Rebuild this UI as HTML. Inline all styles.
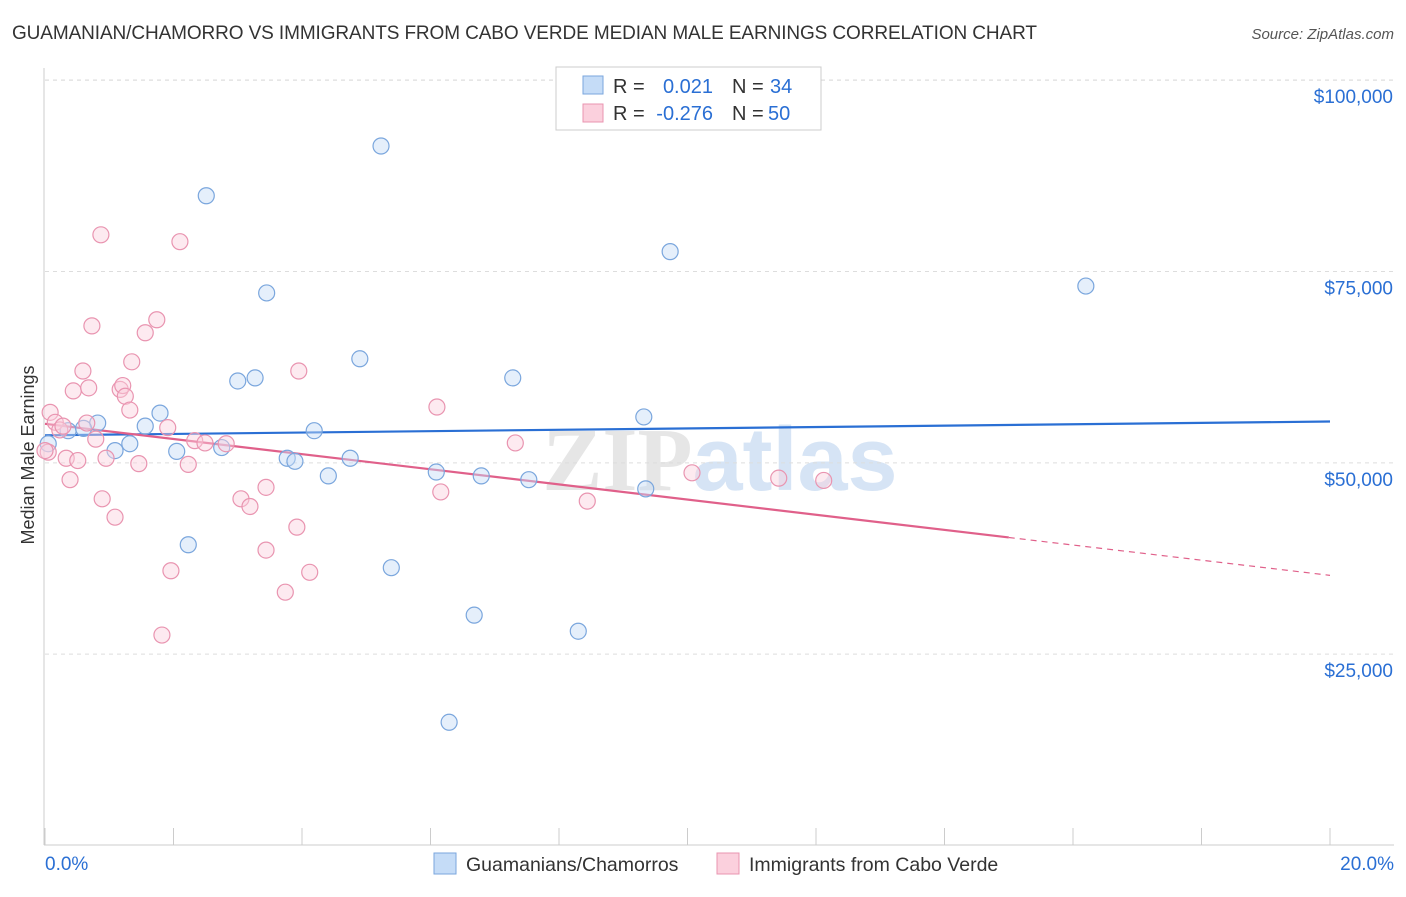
<!DOCTYPE html>
<html><head><meta charset="utf-8"><style>
body{margin:0;background:#fff;font-family:"Liberation Sans",sans-serif}
</style></head><body>
<svg id="chart" width="1406" height="892" xmlns="http://www.w3.org/2000/svg" font-family="Liberation Sans, sans-serif">
<text x="12" y="39" font-size="19" fill="#333" textLength="1025">GUAMANIAN/CHAMORRO VS IMMIGRANTS FROM CABO VERDE MEDIAN MALE EARNINGS CORRELATION CHART</text>
<text x="1394" y="39" font-size="15" fill="#555" text-anchor="end" font-style="italic">Source: ZipAtlas.com</text>
<text x="720" y="490" font-size="90" fill="#e8eef7" text-anchor="middle" font-weight="bold"><tspan fill="#e6e6e6" font-family="Liberation Serif, serif">ZIP</tspan><tspan fill="#d6e4f5">atlas</tspan></text>
<text transform="translate(34,455) rotate(-90)" font-size="18" fill="#333" text-anchor="middle">Median Male Earnings</text>
<g id="grid"></g><g id="axes"></g><g id="trend"></g><g id="pts"></g>
<g>
<rect x="556" y="67" width="265" height="63" fill="#fff" stroke="#ccc"/>
<rect x="583" y="76" width="20" height="18" fill="#c5dcf7" stroke="#7aa6dd"/>
<rect x="583" y="104" width="20" height="18" fill="#fbd0dd" stroke="#e994b0"/>
<text x="613" y="93" font-size="20" fill="#333">R =</text>
<text x="713" y="93" font-size="20" fill="#2a6fd4" text-anchor="end">0.021</text>
<text x="732" y="93" font-size="20" fill="#333">N =</text>
<text x="770" y="93" font-size="20" fill="#2a6fd4">34</text>
<text x="613" y="120" font-size="20" fill="#333">R =</text>
<text x="713" y="120" font-size="20" fill="#2a6fd4" text-anchor="end">-0.276</text>
<text x="732" y="120" font-size="20" fill="#333">N =</text>
<text x="768" y="120" font-size="20" fill="#2a6fd4">50</text>
</g>
<g>
<rect x="434" y="853" width="22" height="21" fill="#c5dcf7" stroke="#7aa6dd"/>
<text x="466" y="871" font-size="19.5" fill="#333">Guamanians/Chamorros</text>
<rect x="717" y="853" width="22" height="21" fill="#fbd0dd" stroke="#e994b0"/>
<text x="749" y="871" font-size="19.5" fill="#333">Immigrants from Cabo Verde</text>
</g>
<text x="45" y="870" font-size="19" fill="#2a6fd4">0.0%</text>
<text x="1394" y="870" font-size="19" fill="#2a6fd4" text-anchor="end">20.0%</text>
</svg>
<script>
const yTicks=[25,50,75,100];
const yTickLabels=["$25,000","$50,000","$75,000","$100,000"];
const xTicks=[0,2,4,6,8,10,12,14,16,18,20];
const blueX=[0.36,0.82,1.09,1.32,1.56,1.79,2.05,2.23,2.51,2.75,3.00,3.27,3.45,3.77,3.89,4.19,4.41,4.75,4.90,5.23,5.39,6.09,6.29,6.68,6.79,7.28,7.53,8.30,9.32,9.35,9.73,16.20,0.05,0.60];
const blueY=[54.2,55.2,51.6,52.5,54.8,56.5,51.5,39.3,84.9,52.0,60.7,61.1,72.2,50.6,50.2,54.2,48.3,50.6,63.6,91.4,36.3,48.8,16.1,30.1,48.3,61.1,47.8,28.0,56.0,46.6,77.6,73.1,52.5,54.5];
const pinkX=[0.08,0.16,0.23,0.05,0.33,0.39,0.44,0.51,0.59,0.65,0.68,0.73,0.79,0.87,0.89,0.95,1.09,1.17,1.21,1.25,1.32,1.35,1.46,1.56,1.74,1.82,1.91,1.96,2.10,2.23,2.33,2.49,2.82,3.05,3.19,3.44,3.44,3.74,3.92,3.95,4.12,6.10,6.16,7.32,8.44,10.07,11.42,12.12,0.0,0.28];
const pinkY=[56.6,55.3,54.3,51.4,50.6,47.8,59.4,50.3,62.0,55.2,59.8,67.9,53.1,79.8,45.3,50.6,42.9,59.6,60.1,58.7,56.9,63.2,49.9,67.0,68.7,27.5,54.6,35.9,78.9,49.8,52.9,52.6,52.5,45.3,44.3,46.8,38.6,33.1,41.6,62.0,35.7,57.3,46.2,52.6,45.0,48.7,48.0,47.7,51.6,54.8];
const blueTrend=[53.6,55.4];
const pinkTrend=[55.1,35.3];
const pinkSolidEnd=15.0;
const NS="http://www.w3.org/2000/svg";
const X=v=>45+v/20*1285, Y=v=>845.5-v*7.653;
function mk(p,t,a){const e=document.createElementNS(NS,t);for(const k in a)e.setAttribute(k,a[k]);document.getElementById(p).appendChild(e);return e;}
yTicks.forEach((t,i)=>{
 const l=mk('grid','line',{x1:45,x2:1394,y1:Y(t),y2:Y(t),stroke:'#ddd','stroke-dasharray':'4,4'});
 
 
 const tx=mk('grid','text',{x:1393,y:Y(t)+23,'font-size':19,fill:'#2a6fd4','text-anchor':'end'});
 tx.textContent=yTickLabels[i];
 
 
});
const tg=mk('grid','line',{x1:45,x2:1394,y1:80,y2:80,stroke:'#ddd','stroke-dasharray':'4,4'});


const ya=mk('axes','line',{x1:44,x2:44,y1:68,y2:845,stroke:'#ccc'});


const xa=mk('axes','line',{x1:44,x2:1394,y1:845,y2:845,stroke:'#ccc'});


xTicks.forEach(t=>{const l=mk('axes','line',{x1:X(t),x2:X(t),y1:828,y2:845,stroke:'#ccc'});
 
 });
function dot(x,y,fill,stroke,name){const c=mk('pts','circle',{cx:X(x),cy:Y(y),r:8,fill:fill,stroke:stroke,'stroke-width':1.2,'fill-opacity':0.45});
 
 }
blueX.forEach((x,i)=>dot(x,blueY[i],'#c5dcf7','#7aa6dd','guamanian-point'));
pinkX.forEach((x,i)=>dot(x,pinkY[i],'#fbd0dd','#e994b0','cabo-verde-point'));
const bt=mk('trend','line',{x1:X(0),x2:X(20),y1:Y(blueTrend[0]),y2:Y(blueTrend[1]),stroke:'#2a6fd4','stroke-width':2.2});


const pm=pinkTrend[0]+(pinkTrend[1]-pinkTrend[0])*pinkSolidEnd/20;
const pt=mk('trend','line',{x1:X(0),x2:X(pinkSolidEnd),y1:Y(pinkTrend[0]),y2:Y(pm),stroke:'#e0608a','stroke-width':2.2});


const pd=mk('trend','line',{x1:X(pinkSolidEnd),x2:X(20),y1:Y(pm),y2:Y(pinkTrend[1]),stroke:'#e0608a','stroke-width':1.2,'stroke-dasharray':'6,5'});


</script>
</body></html>
